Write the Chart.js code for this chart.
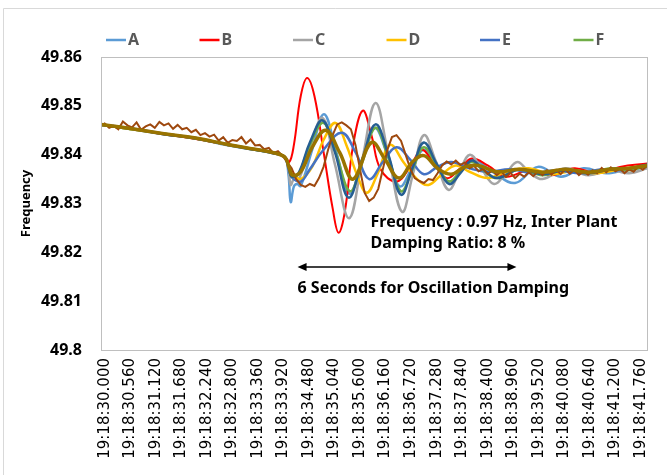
<!DOCTYPE html>
<html>
<head>
<meta charset="utf-8">
<script src="https://cdn.jsdelivr.net/npm/chart.js@4.4.1/dist/chart.umd.min.js"></script>
<style>
html,body{margin:0;padding:0;background:#ffffff;}
</style>
</head>
<body>
<canvas id="freqChart" width="667" height="475"></canvas>
<script>
/* ===========================
   DATA
=========================== */

// seconds after 19:18:00
const tickTimes = [30.00,30.56,31.12,31.68,32.24,32.80,33.36,33.92,34.48,35.04,35.60,
                   36.16,36.72,37.28,37.84,38.40,38.96,39.52,40.08,40.64,41.20,41.76];

const tickLabels = ["19:18:30.000","19:18:30.560","19:18:31.120","19:18:31.680","19:18:32.240",
                    "19:18:32.800","19:18:33.360","19:18:33.920","19:18:34.480","19:18:35.040",
                    "19:18:35.600","19:18:36.160","19:18:36.720","19:18:37.280","19:18:37.840",
                    "19:18:38.400","19:18:38.960","19:18:39.520","19:18:40.080","19:18:40.640",
                    "19:18:41.200","19:18:41.760"];

const yTicks = [49.80,49.81,49.82,49.83,49.84,49.85,49.86];

const yTickLabels = ["49.8","49.81","49.82","49.83","49.84","49.85","49.86"];

const seriesNames = ["A","B","C","D","E","F","G","H","I"];

const tA = [29.92,30.6,31.3,32.0,32.7,33.3,33.7,33.95,34.03,34.08,34.15,34.22,34.3,
            34.55,34.81,35.08,35.37,35.65,35.92,36.2,36.47,36.75,37.0,37.27,37.55,37.8,38.05,
            38.55,39.0,39.5,40.0,40.5,41.0,41.5,41.9];
const fA = [49.8461,49.8452,49.8442,49.8433,49.8419,49.8410,49.8403,49.8394,49.8360,49.8303,49.8335,49.8340,49.8336,
            49.8410,49.8483,49.8405,49.8320,49.8390,49.8455,49.8400,49.8335,49.8375,49.8410,49.8375,49.8345,49.8365,49.8390,
            49.8362,49.8342,49.8375,49.8355,49.8372,49.8362,49.8372,49.8378];

const tB = [29.92,30.6,31.3,32.0,32.7,33.3,33.7,33.95,34.05,34.15,34.3,34.44,34.6,34.81,35.0,35.13,35.27,
            35.45,35.66,35.85,36.05,36.4,36.7,36.95,37.2,37.5,37.8,38.05,
            38.4,38.8,39.3,39.8,40.3,40.8,41.3,41.9];
const fB = [49.8462,49.8453,49.8442,49.8432,49.8420,49.8410,49.8404,49.8396,49.8385,49.8420,49.8520,49.8557,49.8520,49.8400,49.8290,49.8240,49.8285,
            49.8420,49.8490,49.8440,49.8370,49.8345,49.8375,49.8410,49.8385,49.8352,49.8372,49.8392,
            49.8378,49.8355,49.8368,49.8358,49.8372,49.8362,49.8375,49.8382];

const tC = [29.92,30.6,31.3,32.0,32.7,33.3,33.7,33.95,34.03,34.08,34.15,34.25,34.5,34.78,35.05,35.36,35.65,
            35.94,36.22,36.52,36.76,37.0,37.27,37.54,37.78,38.01,38.27,38.54,38.8,39.05,39.3,39.6,
            40.1,40.6,41.1,41.5,41.9];
const fC = [49.8462,49.8454,49.8443,49.8434,49.8421,49.8411,49.8405,49.8395,49.8370,49.8338,49.8350,49.8348,49.8415,49.8475,49.8380,49.8270,49.8390,
            49.8506,49.8400,49.8283,49.8360,49.8440,49.8385,49.8328,49.8365,49.8400,49.8370,49.8340,49.8362,49.8385,49.8365,49.8350,
            49.8372,49.8358,49.8368,49.8362,49.8372];

const tD = [29.92,30.6,31.3,32.0,32.7,33.3,33.7,33.95,34.05,34.15,34.3,34.55,34.8,35.06,35.3,35.55,35.75,
            35.98,36.26,36.55,36.85,37.1,37.4,37.7,38.0,38.4,38.8,39.3,39.8,40.3,40.8,41.3,41.9];
const fD = [49.8461,49.8452,49.8443,49.8433,49.8420,49.8411,49.8404,49.8395,49.8375,49.8360,49.8350,49.8375,49.8430,49.8465,49.8420,49.8355,49.8322,
            49.8360,49.8420,49.8385,49.8350,49.8338,49.8360,49.8378,49.8365,49.8352,49.8365,49.8372,49.8360,49.8367,49.8362,49.8370,49.8378];

const tE = [29.92,30.6,31.3,32.0,32.7,33.3,33.7,33.95,34.05,34.12,34.3,34.5,34.8,35.2,35.5,35.8,36.1,
            36.4,36.7,37.0,37.3,37.6,38.0,38.4,38.9,39.4,39.9,40.4,40.9,41.4,41.9];
const fE = [49.8462,49.8453,49.8443,49.8434,49.8421,49.8411,49.8404,49.8395,49.8365,49.8352,49.8345,49.8370,49.8410,49.8445,49.8405,49.8350,49.8385,
            49.8415,49.8390,49.8360,49.8375,49.8385,49.8372,49.8365,49.8370,49.8362,49.8368,49.8362,49.8370,49.8368,49.8376];

const tF = [29.92,30.6,31.3,32.0,32.7,33.3,33.7,33.95,34.05,34.1,34.25,34.5,34.8,35.08,35.38,35.65,35.94,
            36.22,36.5,36.76,37.0,37.27,37.55,37.8,38.05,38.3,38.6,39.1,39.6,40.1,40.6,41.1,41.5,41.9];
const fF = [49.8462,49.8452,49.8443,49.8433,49.8421,49.8410,49.8404,49.8395,49.8370,49.8355,49.8360,49.8420,49.8465,49.8400,49.8325,49.8385,49.8455,
            49.8395,49.8325,49.8372,49.8415,49.8380,49.8345,49.8365,49.8385,49.8368,49.8352,49.8370,49.8358,49.8370,49.8362,49.8372,49.8368,49.8378];

const tG = [29.92,30.6,31.3,32.0,32.7,33.3,33.7,33.95,34.05,34.1,34.25,34.5,34.78,35.05,35.35,35.65,35.94,
            36.22,36.5,36.76,37.0,37.27,37.55,37.8,38.05,38.3,38.6,39.1,39.6,40.1,40.6,41.1,41.5,41.9];
const fG = [49.8461,49.8453,49.8442,49.8433,49.8420,49.8410,49.8403,49.8395,49.8368,49.8355,49.8362,49.8425,49.8470,49.8405,49.8312,49.8390,49.8462,
            49.8400,49.8318,49.8375,49.8425,49.8383,49.8340,49.8362,49.8388,49.8370,49.8352,49.8370,49.8360,49.8368,49.8362,49.8370,49.8372,49.8380];

const tH = [29.9,30.0,30.1,30.2,30.3,30.4,30.5,30.6,30.7,30.8,30.9,31.0,31.1,31.2,31.3,31.4,31.5,31.6,31.7,31.8,
            31.9,32.0,32.1,32.2,32.3,32.4,32.5,32.6,32.7,32.8,32.9,33.0,33.1,33.2,33.3,33.4,33.5,33.6,33.7,33.8,
            33.9,34.0,34.1,34.2,34.3,34.4,34.5,34.6,34.7,34.8,34.9,35.0,35.1,35.2,35.3,35.4,35.5,35.6,35.7,35.8,
            35.9,36.0,36.1,36.2,36.3,36.4,36.5,36.6,36.7,36.8,36.9,37.0,37.1,37.2,37.3,37.4,37.5,37.6,37.7,37.8,
            37.9,38.0,38.1,38.2,38.3,38.4,38.5,38.6,38.7,38.8,38.9,39.0,39.1,39.2,39.3,39.4,39.5,39.6,39.7,39.8,
            39.9,40.0,40.1,40.2,40.3,40.4,40.5,40.6,40.7,40.8,40.9,41.0,41.1,41.2,41.3,41.4,41.5,41.6,41.7,41.8,
            41.9];
const fH = [49.8458,49.8464,49.8455,49.8459,49.8452,49.8468,49.8460,49.8456,49.8466,49.8451,49.8458,49.8462,49.8455,49.8467,49.8460,49.8464,49.8453,49.8461,49.8452,49.8455,
            49.8446,49.8451,49.8440,49.8444,49.8437,49.8441,49.8429,49.8436,49.8424,49.8430,49.8428,49.8436,49.8423,49.8431,49.8419,49.8420,49.8411,49.8414,49.8403,49.8407,
            49.8398,49.8385,49.8372,49.8350,49.8338,49.8334,49.8340,49.8336,49.8352,49.8375,49.8410,49.8440,49.8462,49.8466,49.8460,49.8452,49.8420,49.8370,49.8322,49.8305,
            49.8312,49.8330,49.8370,49.8410,49.8436,49.8440,49.8428,49.8400,49.8372,49.8352,49.8346,49.8342,49.8350,49.8348,49.8362,49.8378,49.8386,49.8380,49.8388,49.8379,
            49.8384,49.8372,49.8377,49.8366,49.8371,49.8360,49.8368,49.8358,49.8366,49.8354,49.8363,49.8352,49.8361,49.8355,49.8364,49.8356,49.8366,49.8358,49.8368,49.8359,
            49.8369,49.8360,49.8370,49.8361,49.8369,49.8358,49.8366,49.8359,49.8368,49.8362,49.8373,49.8364,49.8374,49.8366,49.8371,49.8362,49.8370,49.8365,49.8376,49.8369,
            49.8378];

const tI = [29.92,30.6,31.3,32.0,32.7,33.3,33.7,33.95,34.05,34.12,34.3,34.55,34.85,35.15,35.45,35.85,36.15,
            36.45,36.75,37.0,37.3,37.6,37.9,38.2,38.6,39.1,39.6,40.1,40.6,41.1,41.5,41.9];
const fI = [49.8462,49.8453,49.8443,49.8434,49.8421,49.8411,49.8404,49.8395,49.8372,49.8358,49.8365,49.8415,49.8450,49.8405,49.8350,49.8425,49.8390,
            49.8352,49.8385,49.8398,49.8372,49.8360,49.8375,49.8378,49.8365,49.8370,49.8364,49.8370,49.8364,49.8370,49.8372,49.8378];

/* ===========================
   STYLE
=========================== */

const seriesTimes = [tA,tB,tC,tD,tE,tF,tG,tH,tI];
const seriesValues = [fA,fB,fC,fD,fE,fF,fG,fH,fI];
const seriesColors = ["#5B9BD5","#FF0000","#A5A5A5","#FFC000","#4472C4","#70AD47","#255E91","#9E480E","#997300"];
const seriesWidths = [2.5,2,2.5,2.5,2.5,2.5,2.5,2,3.5];
const legendCount = 6;

/* ===========================
   PLUGINS
=========================== */

const frame = {
    id:"frame",
    beforeDraw(chart){
        const ctx = chart.ctx;
        ctx.save();
        ctx.fillStyle = "#ffffff";
        ctx.fillRect(0,0,chart.width,chart.height);
        ctx.strokeStyle = "#d9d9d9";
        ctx.lineWidth = 1;
        ctx.beginPath();
        ctx.moveTo(3.5,chart.height);
        ctx.lineTo(3.5,8.5);
        ctx.lineTo(chart.width,8.5);
        ctx.stroke();
        ctx.restore();
    },
    afterDatasetsDraw(chart){
        const a = chart.chartArea;
        const ctx = chart.ctx;
        ctx.save();
        ctx.strokeStyle = "#bfbfbf";
        ctx.lineWidth = 1;
        ctx.strokeRect(Math.round(a.left)+0.5,Math.round(a.top)+0.5,
                       Math.round(a.right-a.left),Math.round(a.bottom-a.top));
        ctx.restore();
    }
};

const legendLines = {
    id:"legendLines",
    afterDraw(chart){
        const ctx = chart.ctx;
        ctx.save();
        ctx.font = "bold 16px 'Noto Sans'";
        ctx.textBaseline = "middle";
        ctx.textAlign = "left";
        for(let i=0;i<legendCount;i++){
            const ds = chart.data.datasets[i];
            const x = 106 + i*93.5;
            ctx.strokeStyle = ds.borderColor;
            ctx.lineWidth = 2.5;
            ctx.beginPath();
            ctx.moveTo(x,40);
            ctx.lineTo(x+20,40);
            ctx.stroke();
            ctx.fillStyle = "#595959";
            ctx.fillText(ds.label,x+22,40);
        }
        ctx.restore();
    }
};

const notes = {
    id:"notes",
    afterDraw(chart){
        const xs = chart.scales.x;
        const ys = chart.scales.y;
        const ctx = chart.ctx;
        ctx.save();
        ctx.fillStyle = "#000000";
        ctx.strokeStyle = "#000000";
        ctx.font = "bold 16px 'Noto Sans'";
        ctx.textBaseline = "middle";
        ctx.textAlign = "left";
        ctx.fillText("Frequency : 0.97 Hz, Inter Plant",xs.getPixelForValue(35.83),ys.getPixelForValue(49.8262));
        ctx.fillText("Damping Ratio: 8 %",xs.getPixelForValue(35.83),ys.getPixelForValue(49.8219));
        ctx.fillText("6 Seconds for Oscillation Damping",xs.getPixelForValue(34.23),ys.getPixelForValue(49.8127));

        const x1 = xs.getPixelForValue(34.23);
        const x2 = xs.getPixelForValue(39.03);
        const y = ys.getPixelForValue(49.8170);
        ctx.lineWidth = 1.5;
        ctx.beginPath();
        ctx.moveTo(x1+6,y);
        ctx.lineTo(x2-6,y);
        ctx.stroke();
        ctx.beginPath();
        ctx.moveTo(x1,y);
        ctx.lineTo(x1+9,y-4);
        ctx.lineTo(x1+9,y+4);
        ctx.closePath();
        ctx.fill();
        ctx.beginPath();
        ctx.moveTo(x2,y);
        ctx.lineTo(x2-9,y-4);
        ctx.lineTo(x2-9,y+4);
        ctx.closePath();
        ctx.fill();
        ctx.restore();
    }
};

/* ===========================
   CHART
=========================== */

const datasets = seriesNames.map((name,i)=>({
    label:name,
    data:seriesTimes[i].map((t,k)=>({x:t,y:seriesValues[i][k]})),
    borderColor:seriesColors[i],
    backgroundColor:seriesColors[i],
    borderWidth:seriesWidths[i],
    pointRadius:0,
    tension:name==="H" ? 0 : 0.4,
    fill:false,
    order:seriesNames.length-1-i
}));

new Chart(document.getElementById("freqChart"),{
    type:"line",
    data:{datasets},
    plugins:[frame,legendLines,notes],
    options:{
        responsive:false,
        devicePixelRatio:1,
        animation:false,
        layout:{padding:{left:5,right:5,top:57,bottom:0}},
        plugins:{
            legend:{display:false},
            tooltip:{enabled:false}
        },
        scales:{
            x:{
                type:"linear",
                min:29.92,
                max:41.9,
                afterBuildTicks(scale){
                    scale.ticks = tickTimes.map(v=>({value:v}));
                },
                afterFit(scale){
                    scale.height = 125;
                },
                ticks:{
                    autoSkip:false,
                    maxRotation:90,
                    minRotation:90,
                    padding:8,
                    color:"#000000",
                    font:{family:"DejaVu Sans",size:15},
                    callback:(v,i)=>tickLabels[i]
                },
                grid:{display:false,drawTicks:false},
                border:{display:false}
            },
            y:{
                min:49.8,
                max:49.86,
                afterBuildTicks(scale){
                    scale.ticks = yTicks.map(v=>({value:v}));
                },
                afterFit(scale){
                    scale.width = 96;
                },
                ticks:{
                    padding:19,
                    color:"#000000",
                    font:{family:"Noto Sans",size:16,weight:"bold"},
                    callback:(v,i)=>yTickLabels[i]
                },
                title:{
                    display:true,
                    text:"Frequency",
                    color:"#000000",
                    font:{family:"Noto Sans",size:13,weight:"bold"},
                    padding:{top:13,bottom:0}
                },
                grid:{display:false,drawTicks:false},
                border:{display:false}
            }
        }
    }
});
</script>
</body>
</html>
